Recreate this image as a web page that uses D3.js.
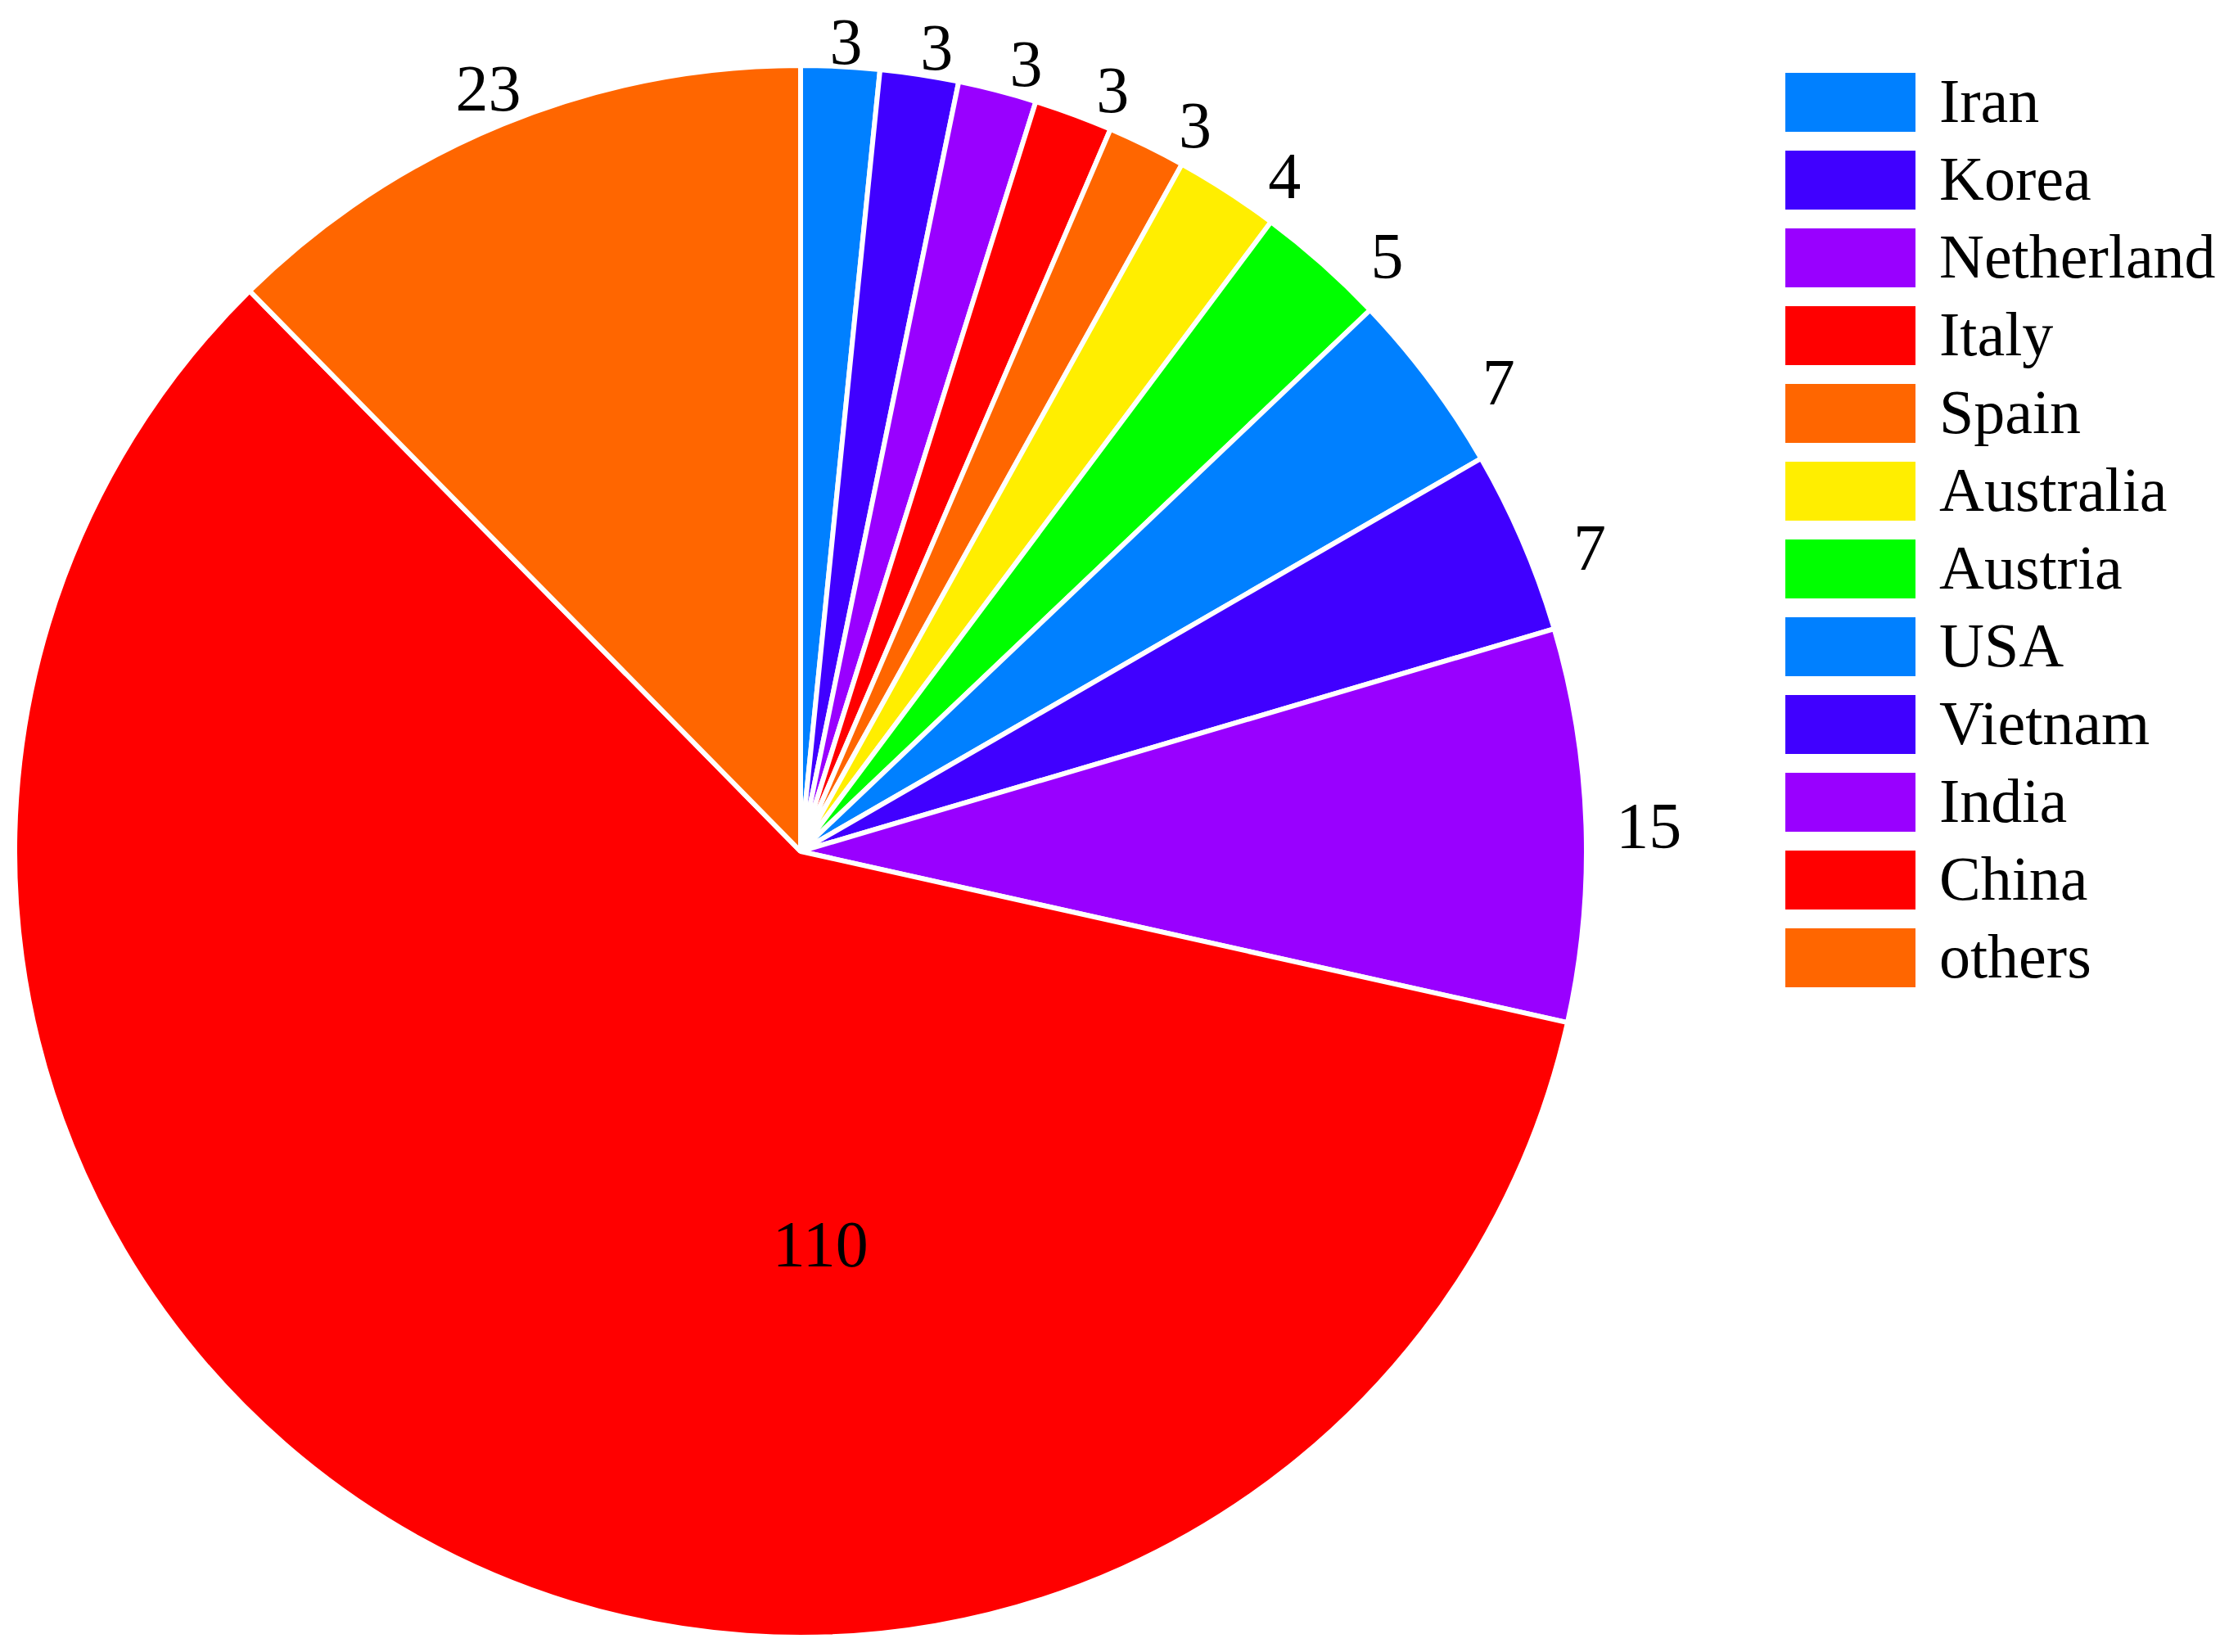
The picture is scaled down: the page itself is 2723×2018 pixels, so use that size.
<!DOCTYPE html>
<html>
<head>
<meta charset="utf-8">
<script src="https://cdn.jsdelivr.net/npm/d3@7/dist/d3.min.js"></script>
<style>
html,body{margin:0;padding:0;background:#fff;}
svg{display:block;}
text{font-family:"Times New Roman","Liberation Serif",serif;fill:#000;}
</style>
</head>
<body>
<svg id="chart" width="2723" height="2018"></svg>
<script>
const countries = ["Iran","Korea","Netherland","Italy","Spain","Australia","Austria","USA","Vietnam","India","China","others"];
const counts = [3,3,3,3,3,4,5,7,7,15,110,23];
const colors = ["#0080FF","#4000FF","#9900FF","#FF0000","#FF6600","#FFEE00","#00FF00","#0080FF","#4000FF","#9900FF","#FF0000","#FF6600"];

const W = 2723, H = 2018;
const cx = 978, cy = 1040, R = 960;
const svg = d3.select("#chart");

const data = countries.map((c, i) => ({name: c, value: counts[i], color: colors[i]}));
const pie = d3.pie().value(d => d.value).sort(null).startAngle(0).endAngle(2 * Math.PI);
const arcs = pie(data);
const arc = d3.arc().innerRadius(0).outerRadius(R);

const g = svg.append("g").attr("transform", `translate(${cx},${cy})`);
g.selectAll("path.slice").data(arcs).enter().append("path")
  .attr("class", "slice")
  .attr("d", arc)
  .attr("fill", d => d.data.color)
  .attr("stroke", "#fff")
  .attr("stroke-width", 6)
  .attr("stroke-linejoin", "bevel");

const fs = 80;
const total = d3.sum(counts);
g.selectAll("text.lbl").data(arcs).enter().append("text")
  .attr("class", "lbl")
  .attr("font-size", fs)
  .attr("text-anchor", "middle")
  .each(function(d) {
    let a, r;
    const span = d.endAngle - d.startAngle;
    if (d.data.value / total > 0.5) {
      a = d.startAngle + span * 0.35;
      r = 0.5 * R;
    } else {
      const mid = (d.startAngle + d.endAngle) / 2;
      const s = Math.sin(mid);
      r = R * (1.03 + 0.05 * Math.abs(s));
      a = mid + (mid < Math.PI ? 3 * Math.PI / 180 * Math.sin(2 * mid) : 0);
    }
    const x = r * Math.sin(a), y = -r * Math.cos(a);
    d3.select(this).attr("x", x).attr("y", y + fs * 0.34).text(d.data.value);
  });

// Legend
const lx = 2181, ly0 = 89, pitch = 95, sw = 159, sh = 72;
const leg = svg.append("g");
const rows = leg.selectAll("g").data(data).enter().append("g")
  .attr("transform", (d, i) => `translate(${lx},${ly0 + i * pitch})`);
rows.append("rect").attr("width", sw).attr("height", sh).attr("fill", d => d.color);
rows.append("text").attr("x", 188).attr("y", sh / 2 + 24)
  .attr("font-size", 76).text(d => d.name);
</script>
</body>
</html>
